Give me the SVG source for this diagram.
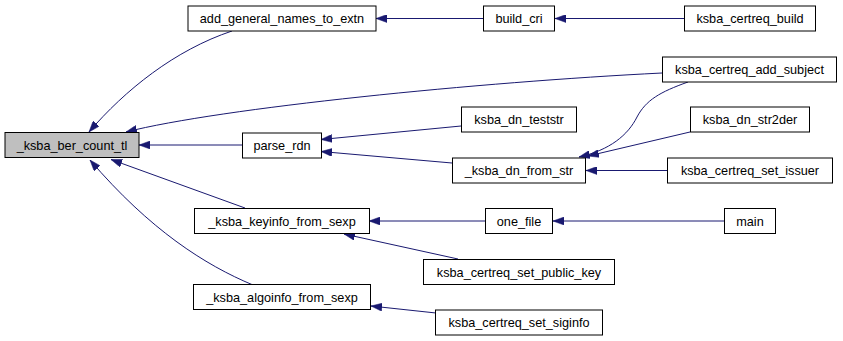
<svg xmlns="http://www.w3.org/2000/svg" width="843" height="341" viewBox="0 0 843 341">
  <style>
    .node rect { fill: #ffffff; stroke: #000000; stroke-width: 1; }
    .node.focus rect { fill: #bfbfbf; }
    .node text { font-family: "Liberation Sans", Arial, sans-serif; font-size: 12.7px; fill: #000000; text-anchor: middle; }
    .edges path { fill: none; stroke: #191970; stroke-width: 1; marker-end: url(#arrow); }
  </style>
  <defs>
    <marker id="arrow" viewBox="0 0 11 8" refX="11" refY="4" markerWidth="11" markerHeight="8" markerUnits="userSpaceOnUse" orient="auto">
      <path d="M0,0 L11,4 L0,8 z" fill="#191970" stroke="#191970" stroke-width="0.5"/>
    </marker>
  </defs>
  <rect width="843" height="341" fill="#ffffff"/>

  <g class="edges" id="edges">
    <path d="M232,31 C175,50 125,90 89,132"/>
    <path d="M483,18.5 L376,18.5"/>
    <path d="M684,18.5 L555,18.5"/>
    <path d="M662,73 C480,82 220,108 126,132"/>
    <path d="M242,145 L139,145"/>
    <path d="M461,126 L321,139.5"/>
    <path d="M452,163 L321,151.5"/>
    <path d="M688,82 C660,92 646,100 637,117 C628,135 610,150 579,157"/>
    <path d="M690,132 L588,156"/>
    <path d="M668,170.5 L586,170.5"/>
    <path d="M245,208 L111,159.5"/>
    <path d="M253,285 C205,265 150,230 90,160"/>
    <path d="M485,221 L369,221"/>
    <path d="M724,221 L553,221"/>
    <path d="M458,259 L344,234"/>
    <path d="M436,313 L371,306"/>
  </g>

  <g class="node focus" id="n_ksba_ber_count_tl">
    <rect x="5" y="132.5" width="134" height="25"/>
    <text x="72" y="149.5">_ksba_ber_count_tl</text>
  </g>
  <g class="node" id="n_add_general_names_to_extn">
    <rect x="188" y="6" width="188" height="25"/>
    <text x="282" y="23">add_general_names_to_extn</text>
  </g>
  <g class="node" id="n_build_cri">
    <rect x="483.5" y="6" width="71" height="25"/>
    <text x="519" y="23">build_cri</text>
  </g>
  <g class="node" id="n_ksba_certreq_build">
    <rect x="684.5" y="6" width="131" height="25"/>
    <text x="750" y="23">ksba_certreq_build</text>
  </g>
  <g class="node" id="n_ksba_certreq_add_subject">
    <rect x="662.5" y="57" width="174" height="25"/>
    <text x="749.5" y="74">ksba_certreq_add_subject</text>
  </g>
  <g class="node" id="n_parse_rdn">
    <rect x="242.5" y="133" width="79" height="25"/>
    <text x="282" y="150">parse_rdn</text>
  </g>
  <g class="node" id="n_ksba_dn_teststr">
    <rect x="461.5" y="107" width="115" height="25"/>
    <text x="519" y="124">ksba_dn_teststr</text>
  </g>
  <g class="node" id="n_ksba_dn_str2der">
    <rect x="690.5" y="107" width="119" height="25"/>
    <text x="750" y="124">ksba_dn_str2der</text>
  </g>
  <g class="node" id="n_ksba_dn_from_str">
    <rect x="452.5" y="158" width="133" height="25"/>
    <text x="519" y="175">_ksba_dn_from_str</text>
  </g>
  <g class="node" id="n_ksba_certreq_set_issuer">
    <rect x="667.5" y="158" width="165" height="25"/>
    <text x="750" y="175">ksba_certreq_set_issuer</text>
  </g>
  <g class="node" id="n_ksba_keyinfo_from_sexp">
    <rect x="194.5" y="208.5" width="175" height="25"/>
    <text x="282" y="225.5">_ksba_keyinfo_from_sexp</text>
  </g>
  <g class="node" id="n_one_file">
    <rect x="485.5" y="208.5" width="67" height="25"/>
    <text x="519" y="225.5">one_file</text>
  </g>
  <g class="node" id="n_main">
    <rect x="724.5" y="208.5" width="51" height="25"/>
    <text x="750" y="225.5">main</text>
  </g>
  <g class="node" id="n_ksba_certreq_set_public_key">
    <rect x="423.5" y="259.5" width="191" height="25"/>
    <text x="519" y="276.5">ksba_certreq_set_public_key</text>
  </g>
  <g class="node" id="n_ksba_algoinfo_from_sexp">
    <rect x="193.5" y="284.5" width="177" height="25"/>
    <text x="282" y="301.5">_ksba_algoinfo_from_sexp</text>
  </g>
  <g class="node" id="n_ksba_certreq_set_siginfo">
    <rect x="435.5" y="310" width="167" height="25"/>
    <text x="519" y="327">ksba_certreq_set_siginfo</text>
  </g>
</svg>
